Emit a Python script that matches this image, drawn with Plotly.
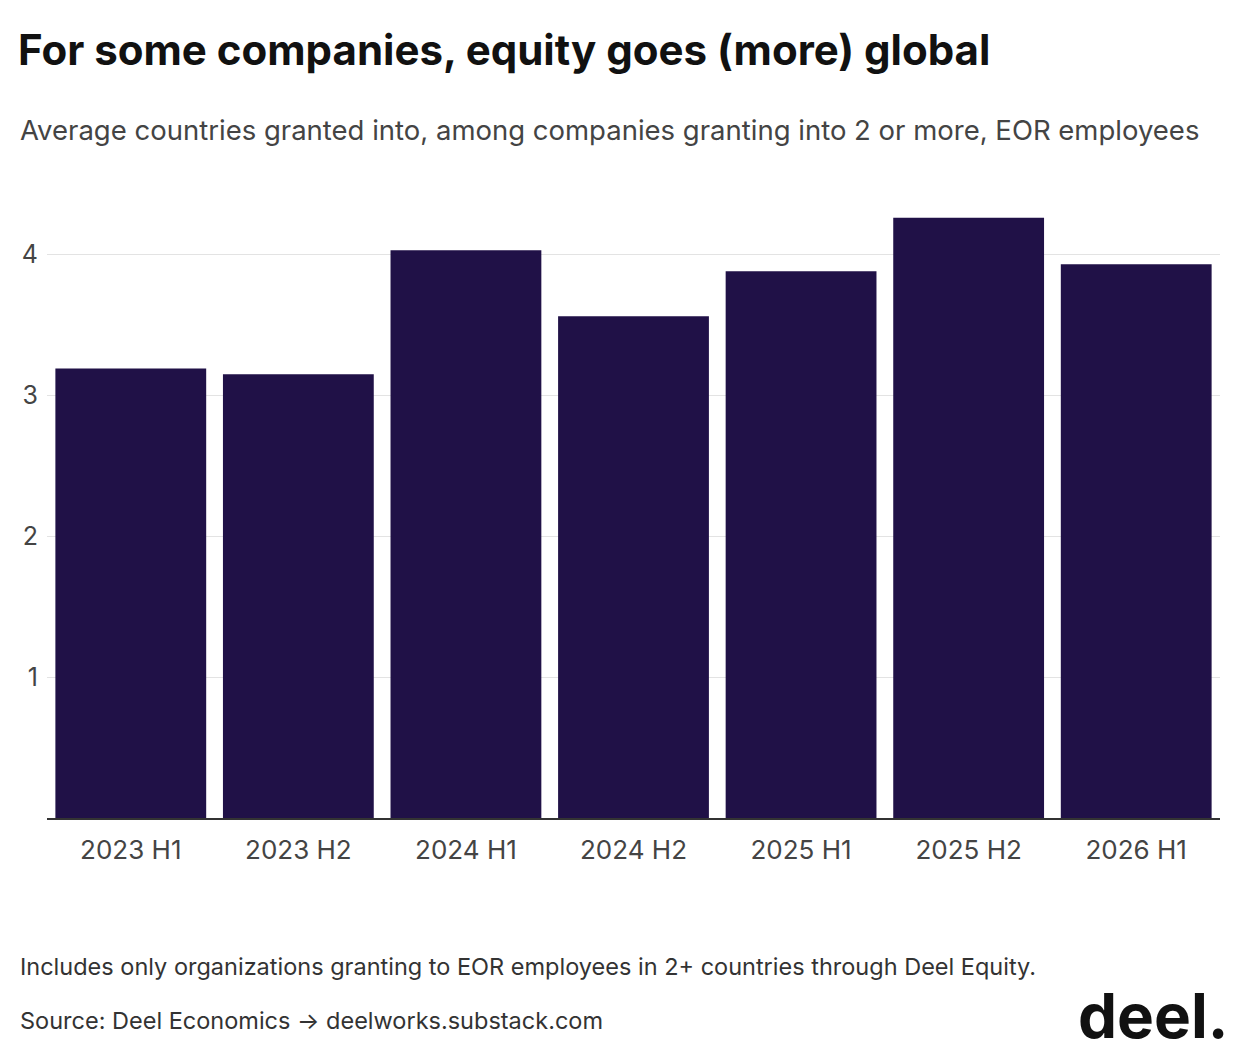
import plotly.graph_objects as go

periods = ["2023 H1", "2023 H2", "2024 H1", "2024 H2", "2025 H1", "2025 H2", "2026 H1"]
values = [3.19, 3.15, 4.03, 3.56, 3.88, 4.26, 3.93]
tick_vals = [1, 2, 3, 4]

W, H = 1240, 1062
DX, DY = 10, 8  # rendering offset compensation
def px(x): return (x - DX) / W
def py(y): return 1 - (y - DY) / H

fig = go.Figure(go.Bar(x=periods, y=values, marker_color="#201147", marker_line_width=0))
fig.update_layout(
    width=W, height=H, paper_bgcolor="white", plot_bgcolor="white",
    margin=dict(l=0, r=0, t=0, b=0), bargap=0.1, showlegend=False,
    font=dict(family="Inter", color="#333"),
    title=dict(text="<b>For some companies, equity goes (more) global</b>", x=px(20), xanchor="left",
               y=py(50), yanchor="middle", font=dict(size=42, color="#111")),
)
fig.update_yaxes(range=[0, 4.4], tickvals=tick_vals, showgrid=True, gridcolor="#e3e3e3",
                 tickfont=dict(size=25, color="#444"), ticks="", zeroline=False, ticklabelstandoff=8,
                 domain=[py(818), py(198)])
fig.update_xaxes(showline=True, linecolor="#333", linewidth=1.5, tickfont=dict(size=26, color="#444"),
                 ticks="", ticklabelstandoff=8, domain=[px(49), px(1222)])
fig.add_annotation(text="Average countries granted into, among companies granting into 2 or more, EOR employees",
                   x=px(20), y=py(130), xref="paper", yref="paper", xanchor="left", yanchor="middle",
                   showarrow=False, font=dict(size=27.5, color="#444"))
fig.add_annotation(text="Includes only organizations granting to EOR employees in 2+ countries through Deel Equity.",
                   x=px(20), y=py(966), xref="paper", yref="paper", xanchor="left", yanchor="middle",
                   showarrow=False, font=dict(size=23.5, color="#333"))
fig.add_annotation(text="Source: Deel Economics → deelworks.substack.com",
                   x=px(20), y=py(1020), xref="paper", yref="paper", xanchor="left", yanchor="middle",
                   showarrow=False, font=dict(size=23.5, color="#333"))
fig.add_annotation(text="<b>deel.</b>", x=px(1232), y=py(1015), xref="paper", yref="paper",
                   xanchor="right", yanchor="middle", showarrow=False, font=dict(size=62, color="#111"))
fig.write_html("out.html")
